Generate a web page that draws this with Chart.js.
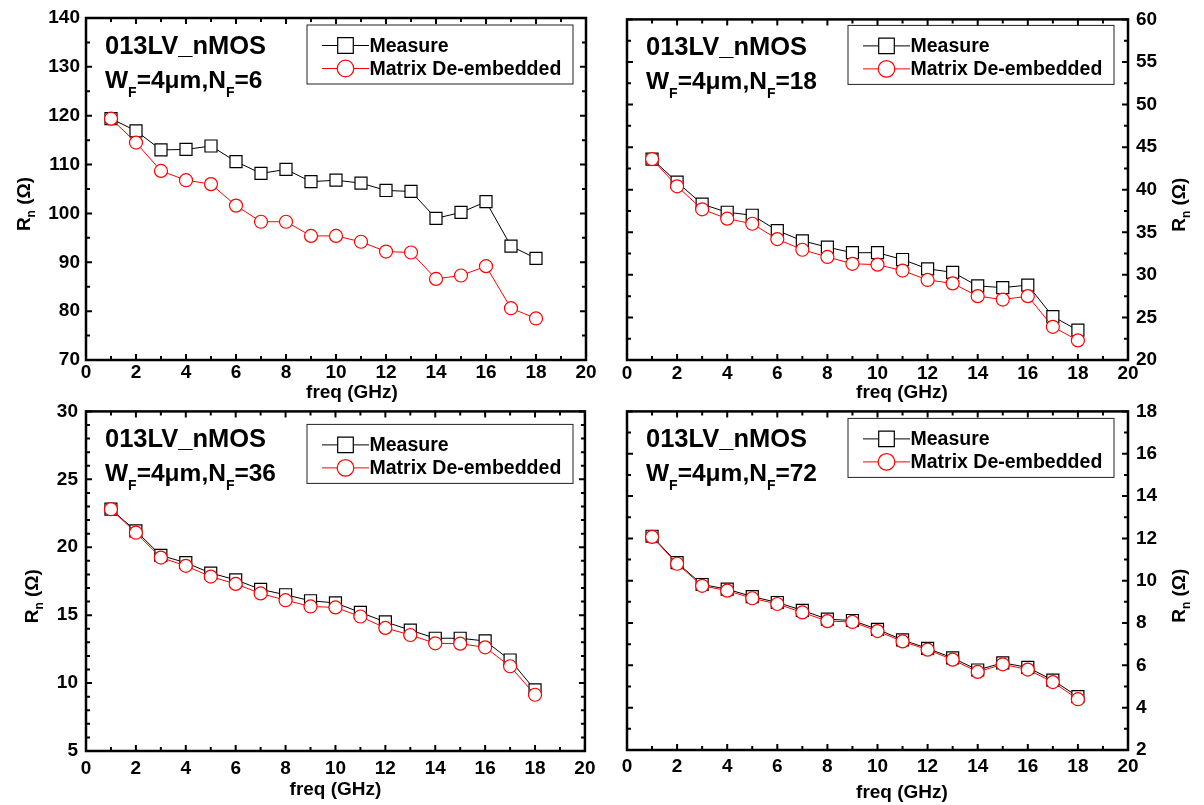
<!DOCTYPE html>
<html>
<head>
<meta charset="utf-8">
<script src="https://cdn.jsdelivr.net/npm/chart.js@4.4.0/dist/chart.umd.min.js"></script>
<style>
  body { margin: 0; background: #fff; width: 1204px; height: 805px; overflow: hidden; position: relative; }
  canvas { position: absolute; }
</style>
</head>
<body>
<script>
const FONT = '"Liberation Sans", Arial, Helvetica, sans-serif';

// frequency points (GHz)
const freq = [1, 2, 3, 4, 5, 6, 7, 8, 9, 10, 11, 12, 13, 14, 15, 16, 17, 18];
const xTicks = [0, 2, 4, 6, 8, 10, 12, 14, 16, 18, 20];

// Rn (ohm)
const measNF6   = [119.4, 116.9, 113.0, 113.1, 113.8, 110.6, 108.2, 109.0, 106.5, 106.8, 106.2, 104.7, 104.5, 99.0, 100.2, 102.4, 93.3, 90.8];
const deembNF6  = [119.4, 114.5, 108.7, 106.8, 106.0, 101.6, 98.3, 98.3, 95.4, 95.4, 94.2, 92.2, 92.0, 86.6, 87.3, 89.2, 80.6, 78.5];
const measNF18  = [43.6, 40.9, 38.3, 37.35, 37.0, 35.2, 34.0, 33.25, 32.6, 32.6, 31.8, 30.7, 30.3, 28.7, 28.5, 28.8, 25.1, 23.5];
const deembNF18 = [43.6, 40.4, 37.7, 36.6, 36.0, 34.2, 32.95, 32.1, 31.3, 31.2, 30.5, 29.4, 29.0, 27.5, 27.1, 27.5, 23.9, 22.3];
const measNF36  = [22.8, 21.2, 19.4, 18.86, 18.1, 17.6, 16.9, 16.5, 16.06, 15.9, 15.2, 14.5, 13.9, 13.3, 13.3, 13.1, 11.7, 9.5];
const deembNF36 = [22.8, 21.07, 19.24, 18.63, 17.84, 17.3, 16.6, 16.1, 15.64, 15.57, 14.9, 14.06, 13.54, 12.93, 12.9, 12.63, 11.24, 9.14];
const measNF72  = [12.1, 10.85, 9.82, 9.6, 9.25, 8.97, 8.6, 8.18, 8.12, 7.7, 7.2, 6.8, 6.35, 5.78, 6.12, 5.9, 5.3, 4.52];
const deembNF72 = [12.07, 10.8, 9.76, 9.53, 9.17, 8.9, 8.5, 8.09, 8.05, 7.62, 7.13, 6.74, 6.27, 5.69, 6.05, 5.8, 5.21, 4.4];

// y tick labels per panel
const yTicksNF6  = [70, 80, 90, 100, 110, 120, 130, 140];
const yTicksNF18 = [20, 25, 30, 35, 40, 45, 50, 55, 60];
const yTicksNF36 = [5, 10, 15, 20, 25, 30];
const yTicksNF72 = [2, 4, 6, 8, 10, 12, 14, 16, 18];

const legendLabels = ['Measure', 'Matrix De-embedded'];
const device = '013LV_nMOS';

const panels = [
  { nf: '6',  meas: measNF6,  deemb: deembNF6,  yTicks: yTicksNF6,  yMinor: 5,   side: 'left',
    box: [0, 0, 602, 402],   pad: { left: 0, top: 18, right: 16, bottom: 0 }, yW: 86, xH: 42,
    yPad: 6, xPad: 1.5, xTitleDx: 16, xTitleDy: 38, yTitleDx: -56, legTop: 7 },
  { nf: '18', meas: measNF18, deemb: deembNF18, yTicks: yTicksNF18, yMinor: 2.5, side: 'right',
    box: [602, 0, 602, 402], pad: { left: 25, top: 18, right: 0, bottom: 0 }, yW: 76, xH: 42,
    yPad: 8, xPad: 2.5, xTitleDx: 24.5, xTitleDy: 38, yTitleDx: 57, legTop: 6 },
  { nf: '36', meas: measNF36, deemb: deembNF36, yTicks: yTicksNF36, yMinor: 1,   side: 'left',
    box: [0, 392, 602, 413], pad: { left: 0, top: 18, right: 15, bottom: 0 }, yW: 86, xH: 54,
    yPad: 8, xPad: 6.5, xTitleDx: 0, xTitleDy: 44, yTitleDx: -48, legTop: 13 },
  { nf: '72', meas: measNF72, deemb: deembNF72, yTicks: yTicksNF72, yMinor: 1,   side: 'right',
    box: [602, 392, 602, 413], pad: { left: 25, top: 18, right: 0, bottom: 0 }, yW: 76, xH: 55,
    yPad: 8, xPad: 5, xTitleDx: 24.5, xTitleDy: 48, yTitleDx: 57, legTop: 7 }
];

// draws text pieces one after another; sub pieces are smaller and lowered
function richText(ctx, parts, x, y, size, subSize, drop) {
  let cx = x;
  for (const [t, sub] of parts) {
    ctx.font = 'bold ' + (sub ? subSize : size) + 'px ' + FONT;
    ctx.fillText(t, cx, y + (sub ? drop : 0));
    cx += ctx.measureText(t).width;
  }
  return cx - x;
}
function richWidth(ctx, parts, size, subSize) {
  let w = 0;
  for (const [t, sub] of parts) {
    ctx.font = 'bold ' + (sub ? subSize : size) + 'px ' + FONT;
    w += ctx.measureText(t).width;
  }
  return w;
}

function drawMarker(ctx, style, x, y, r, color) {
  ctx.beginPath();
  if (style === 'rect') ctx.rect(x - r, y - r, 2 * r, 2 * r);
  else ctx.arc(x, y, r, 0, Math.PI * 2);
  ctx.fillStyle = '#fff';
  ctx.fill();
  ctx.strokeStyle = color;
  ctx.lineWidth = 1.2;
  ctx.stroke();
}

function decoPlugin(p) {
  return {
    id: 'deco',
    afterDraw(chart) {
      const { ctx, chartArea: a, scales } = chart;
      const xs = scales.x, ys = scales.y;
      ctx.save();
      ctx.strokeStyle = '#000';
      ctx.fillStyle = '#000';

      // inward ticks on all four sides
      ctx.lineWidth = 2;
      ctx.beginPath();
      for (let v = xs.min; v <= xs.max + 1e-9; v += 1) {
        const px = xs.getPixelForValue(v);
        const len = xTicks.includes(v) ? 6 : 4;
        ctx.moveTo(px, a.bottom); ctx.lineTo(px, a.bottom - len);
        ctx.moveTo(px, a.top); ctx.lineTo(px, a.top + len);
      }
      for (let v = ys.min; v <= ys.max + 1e-9; v += p.yMinor) {
        const py = ys.getPixelForValue(v);
        const len = p.yTicks.some(t => Math.abs(t - v) < 1e-6) ? 6 : 4;
        ctx.moveTo(a.left, py); ctx.lineTo(a.left + len, py);
        ctx.moveTo(a.right, py); ctx.lineTo(a.right - len, py);
      }
      ctx.stroke();
      ctx.lineWidth = 2.5;
      ctx.strokeRect(a.left, a.top, a.right - a.left, a.bottom - a.top);

      // device annotation
      ctx.textAlign = 'left';
      ctx.textBaseline = 'alphabetic';
      richText(ctx, [[device, false]], a.left + 19, a.top + 35.5, 25.5, 14, 9);
      richText(ctx, [['W', false], ['F', true], ['=4\u03bcm,N', false], ['F', true], ['=' + p.nf, false]],
        a.left + 19, a.top + 69.5, 24.5, 14, 9);

      // legend
      const bx = a.left + 221, by = a.top + p.legTop, bw = 266, bh = 59;
      ctx.lineWidth = 1;
      ctx.strokeStyle = '#222';
      ctx.strokeRect(bx, by, bw, bh);
      const rows = [
        { ds: chart.data.datasets[1], label: legendLabels[0], y: by + 20.5, style: 'rect', r: 7.8 },
        { ds: chart.data.datasets[0], label: legendLabels[1], y: by + 43.5, style: 'circle', r: 8.3 }
      ];
      for (const row of rows) {
        ctx.strokeStyle = row.ds.borderColor;
        ctx.lineWidth = 1;
        ctx.beginPath();
        ctx.moveTo(bx + 15, row.y); ctx.lineTo(bx + 62, row.y);
        ctx.stroke();
        drawMarker(ctx, row.style, bx + 38.5, row.y, row.r, row.ds.borderColor);
        ctx.fillStyle = '#000';
        ctx.font = 'bold 19.5px ' + FONT;
        ctx.textBaseline = 'middle';
        ctx.fillText(row.label, bx + 62.5, row.y + 1);
      }

      // x title
      ctx.textBaseline = 'alphabetic';
      ctx.textAlign = 'center';
      ctx.font = 'bold 19px ' + FONT;
      ctx.fillText('freq (GHz)', (a.left + a.right) / 2 + p.xTitleDx, a.bottom + p.xTitleDy);

      // y title, rotated, with subscript n
      const parts = [['R', false], ['n', true], [' (\u03a9)', false]];
      const tx = (p.side === 'left' ? a.left : a.right) + p.yTitleDx;
      const ty = (a.top + a.bottom) / 2 + 15;
      ctx.translate(tx, ty);
      ctx.rotate(-Math.PI / 2);
      ctx.textAlign = 'left';
      const w = richWidth(ctx, parts, 19, 12);
      richText(ctx, parts, -w / 2, 0, 19, 12, 5);
      ctx.restore();
    }
  };
}

panels.forEach((p) => {
  const cv = document.createElement('canvas');
  cv.width = p.box[2];
  cv.height = p.box[3];
  cv.style.left = p.box[0] + 'px';
  cv.style.top = p.box[1] + 'px';
  document.body.appendChild(cv);

  const yMin = p.yTicks[0], yMax = p.yTicks[p.yTicks.length - 1];
  new Chart(cv.getContext('2d'), {
    type: 'scatter',
    data: {
      datasets: [
        {
          label: legendLabels[1],
          data: freq.map((f, i) => ({ x: f, y: p.deemb[i] })),
          showLine: true,
          borderColor: '#ff0000',
          borderWidth: 1,
          pointStyle: 'circle',
          pointRadius: 6.5,
          pointBackgroundColor: '#ffffff',
          pointBorderColor: '#ff0000',
          pointBorderWidth: 1.2,
          order: 0
        },
        {
          label: legendLabels[0],
          data: freq.map((f, i) => ({ x: f, y: p.meas[i] })),
          showLine: true,
          borderColor: '#000000',
          borderWidth: 1,
          pointStyle: 'rect',
          pointRadius: 8.5,
          pointBackgroundColor: '#ffffff',
          pointBorderColor: '#000000',
          pointBorderWidth: 1.2,
          order: 1
        }
      ]
    },
    options: {
      responsive: false,
      animation: false,
      events: [],
      layout: { padding: p.pad },
      plugins: { legend: { display: false }, tooltip: { enabled: false } },
      scales: {
        x: {
          type: 'linear',
          min: xTicks[0],
          max: xTicks[xTicks.length - 1],
          grid: { display: false, drawTicks: false },
          border: { display: false },
          ticks: {
            stepSize: xTicks[1] - xTicks[0],
            padding: p.xPad,
            color: '#000',
            font: { family: FONT, size: 19, weight: 'bold' },
            maxRotation: 0
          },
          afterFit: (s) => { s.height = p.xH; }
        },
        y: {
          type: 'linear',
          position: p.side,
          min: yMin,
          max: yMax,
          grid: { display: false, drawTicks: false },
          border: { display: false },
          ticks: {
            stepSize: p.yTicks[1] - p.yTicks[0],
            padding: p.yPad,
            color: '#000',
            font: { family: FONT, size: 19, weight: 'bold' }
          },
          afterFit: (s) => { s.width = p.yW; }
        }
      }
    },
    plugins: [decoPlugin(p)]
  });
});
</script>
</body>
</html>
